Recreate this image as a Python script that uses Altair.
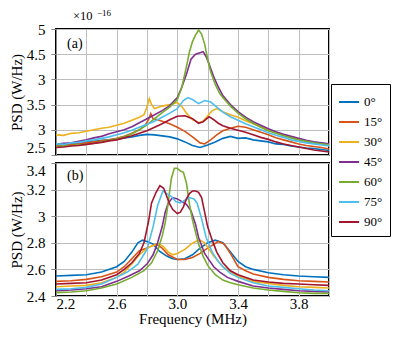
import altair as alt
import pandas as pd

angles = ["0°", "15°", "30°", "45°", "60°", "75°", "90°"]
colors = ["#0072BD", "#D95319", "#EDB120", "#7E2F8E", "#77AC30", "#4DBEEE", "#A2142F"]

# ---------- panel (a), PSD in units of 1e-16 W/Hz ----------
a_f_0 = [2.2, 2.25, 2.3, 2.35, 2.4, 2.45, 2.5, 2.55, 2.6, 2.65, 2.7, 2.75, 2.8, 2.85, 2.9, 2.95, 3.0, 3.05, 3.1, 3.15, 3.2, 3.25, 3.3, 3.35, 3.4, 3.45, 3.5, 3.55, 3.6, 3.65, 3.7, 3.75, 3.8, 3.85, 3.9, 3.95, 4.0]
a_v_0 = [2.71, 2.70, 2.73, 2.72, 2.76, 2.77, 2.79, 2.80, 2.82, 2.84, 2.86, 2.89, 2.91, 2.90, 2.88, 2.86, 2.82, 2.76, 2.69, 2.65, 2.70, 2.76, 2.83, 2.87, 2.83, 2.84, 2.80, 2.78, 2.76, 2.72, 2.71, 2.68, 2.66, 2.64, 2.63, 2.61, 2.59]

a_f_15 = [2.2, 2.25, 2.3, 2.35, 2.4, 2.45, 2.5, 2.55, 2.6, 2.65, 2.7, 2.75, 2.79, 2.81, 2.825, 2.84, 2.87, 2.9, 2.95, 3.0, 3.05, 3.1, 3.15, 3.18, 3.22, 3.26, 3.3, 3.35, 3.4, 3.45, 3.5, 3.55, 3.6, 3.65, 3.7, 3.75, 3.8, 3.85, 3.9, 3.95, 4.0]
a_v_15 = [2.68, 2.69, 2.71, 2.72, 2.74, 2.76, 2.78, 2.80, 2.83, 2.87, 2.93, 3.00, 3.10, 3.20, 3.32, 3.22, 3.20, 3.17, 3.12, 3.05, 2.97, 2.86, 2.74, 2.72, 2.80, 2.90, 2.98, 3.03, 3.07, 3.05, 3.00, 2.95, 2.90, 2.84, 2.80, 2.76, 2.72, 2.69, 2.67, 2.65, 2.62]

a_f_30 = [2.2, 2.25, 2.3, 2.35, 2.4, 2.45, 2.5, 2.55, 2.6, 2.65, 2.7, 2.75, 2.78, 2.8, 2.815, 2.83, 2.85, 2.9, 2.95, 3.0, 3.03, 3.06, 3.1, 3.14, 3.17, 3.2, 3.23, 3.26, 3.3, 3.35, 3.4, 3.45, 3.5, 3.55, 3.6, 3.65, 3.7, 3.75, 3.8, 3.85, 3.9, 3.95, 4.0]
a_v_30 = [2.90, 2.89, 2.93, 2.94, 2.97, 3.00, 3.03, 3.05, 3.09, 3.13, 3.19, 3.25, 3.30, 3.45, 3.62, 3.50, 3.42, 3.47, 3.50, 3.54, 3.46, 3.33, 3.20, 3.14, 3.17, 3.28, 3.38, 3.42, 3.36, 3.30, 3.25, 3.18, 3.12, 3.06, 3.00, 2.95, 2.90, 2.84, 2.80, 2.77, 2.75, 2.73, 2.70]

a_f_45 = [2.2, 2.25, 2.3, 2.35, 2.4, 2.45, 2.5, 2.55, 2.6, 2.65, 2.7, 2.75, 2.8, 2.85, 2.9, 2.95, 3.0, 3.03, 3.06, 3.09, 3.12, 3.15, 3.17, 3.19, 3.21, 3.24, 3.27, 3.3, 3.35, 3.4, 3.45, 3.5, 3.55, 3.6, 3.65, 3.7, 3.75, 3.8, 3.85, 3.9, 3.95, 4.0]
a_v_45 = [2.71, 2.73, 2.74, 2.77, 2.80, 2.84, 2.87, 2.92, 2.96, 3.00, 3.06, 3.14, 3.22, 3.30, 3.38, 3.48, 3.64, 3.85, 4.10, 4.40, 4.50, 4.53, 4.55, 4.45, 4.30, 4.05, 3.85, 3.68, 3.50, 3.36, 3.25, 3.16, 3.09, 3.02, 2.96, 2.91, 2.87, 2.83, 2.79, 2.76, 2.74, 2.72]

a_f_60 = [2.2, 2.3, 2.4, 2.5, 2.6, 2.65, 2.7, 2.75, 2.8, 2.85, 2.9, 2.95, 3.0, 3.03, 3.06, 3.08, 3.1, 3.12, 3.14, 3.16, 3.18, 3.2, 3.22, 3.25, 3.28, 3.3, 3.35, 3.4, 3.45, 3.5, 3.55, 3.6, 3.65, 3.7, 3.75, 3.8, 3.85, 3.9, 3.95, 4.0]
a_v_60 = [2.67, 2.69, 2.71, 2.76, 2.82, 2.86, 2.92, 3.00, 3.10, 3.22, 3.34, 3.45, 3.60, 3.85, 4.25, 4.55, 4.75, 4.88, 4.98, 4.90, 4.70, 4.40, 4.15, 3.90, 3.72, 3.64, 3.47, 3.33, 3.22, 3.13, 3.05, 2.98, 2.93, 2.88, 2.84, 2.80, 2.77, 2.74, 2.72, 2.70]

a_f_75 = [2.2, 2.25, 2.3, 2.35, 2.4, 2.45, 2.5, 2.55, 2.6, 2.65, 2.7, 2.75, 2.8, 2.85, 2.9, 2.95, 3.0, 3.04, 3.07, 3.1, 3.14, 3.18, 3.22, 3.26, 3.3, 3.35, 3.4, 3.45, 3.5, 3.55, 3.6, 3.65, 3.7, 3.75, 3.8, 3.85, 3.9, 3.95, 4.0]
a_v_75 = [2.72, 2.71, 2.74, 2.75, 2.78, 2.80, 2.83, 2.86, 2.90, 2.94, 2.99, 3.05, 3.11, 3.17, 3.25, 3.33, 3.42, 3.58, 3.64, 3.60, 3.52, 3.58, 3.55, 3.45, 3.35, 3.26, 3.19, 3.12, 3.06, 3.00, 2.94, 2.89, 2.85, 2.80, 2.77, 2.74, 2.72, 2.70, 2.68]

a_f_90 = [2.2, 2.25, 2.3, 2.35, 2.4, 2.45, 2.5, 2.55, 2.6, 2.65, 2.7, 2.75, 2.8, 2.85, 2.9, 2.95, 3.0, 3.05, 3.1, 3.14, 3.17, 3.21, 3.24, 3.27, 3.3, 3.35, 3.4, 3.45, 3.5, 3.55, 3.6, 3.65, 3.7, 3.75, 3.8, 3.85, 3.9, 3.95, 4.0]
a_v_90 = [2.65, 2.66, 2.68, 2.69, 2.71, 2.73, 2.75, 2.78, 2.80, 2.84, 2.88, 2.93, 2.98, 3.05, 3.12, 3.20, 3.27, 3.28, 3.22, 3.13, 3.16, 3.26, 3.20, 3.13, 3.08, 3.03, 2.99, 2.95, 2.90, 2.85, 2.81, 2.76, 2.72, 2.69, 2.66, 2.63, 2.60, 2.58, 2.56]

# ---------- panel (b) ----------
b_f_0 = [2.2, 2.3, 2.4, 2.5, 2.6, 2.65, 2.7, 2.74, 2.77, 2.8, 2.84, 2.88, 2.93, 2.97, 3.0, 3.05, 3.1, 3.15, 3.2, 3.25, 3.3, 3.35, 3.4, 3.45, 3.5, 3.6, 3.7, 3.8, 3.9, 4.0]
b_v_0 = [2.55, 2.555, 2.56, 2.58, 2.62, 2.66, 2.73, 2.80, 2.82, 2.81, 2.79, 2.74, 2.70, 2.68, 2.675, 2.68, 2.71, 2.76, 2.80, 2.82, 2.80, 2.73, 2.66, 2.62, 2.60, 2.575, 2.56, 2.55, 2.545, 2.54]

b_f_15 = [2.2, 2.3, 2.4, 2.5, 2.6, 2.65, 2.7, 2.75, 2.8, 2.86, 2.9, 2.94, 3.0, 3.05, 3.1, 3.15, 3.2, 3.27, 3.31, 3.35, 3.4, 3.45, 3.5, 3.6, 3.7, 3.8, 3.9, 4.0]
b_v_15 = [2.51, 2.515, 2.525, 2.545, 2.58, 2.62, 2.68, 2.74, 2.76, 2.79, 2.76, 2.71, 2.675, 2.675, 2.69, 2.72, 2.76, 2.81, 2.79, 2.72, 2.62, 2.59, 2.565, 2.54, 2.525, 2.515, 2.51, 2.505]

b_f_30 = [2.2, 2.3, 2.4, 2.5, 2.6, 2.65, 2.7, 2.75, 2.8, 2.84, 2.88, 2.91, 2.94, 2.97, 3.0, 3.05, 3.09, 3.12, 3.15, 3.18, 3.21, 3.24, 3.27, 3.3, 3.34, 3.4, 3.5, 3.6, 3.7, 3.8, 3.9, 4.0]
b_v_30 = [2.47, 2.475, 2.48, 2.50, 2.54, 2.58, 2.64, 2.71, 2.76, 2.78, 2.79, 2.77, 2.73, 2.71, 2.72, 2.75, 2.79, 2.81, 2.82, 2.80, 2.75, 2.70, 2.66, 2.62, 2.59, 2.55, 2.51, 2.495, 2.48, 2.47, 2.465, 2.46]

b_f_45 = [2.2, 2.3, 2.4, 2.5, 2.6, 2.68, 2.75, 2.8, 2.84, 2.87, 2.9, 2.92, 2.94, 2.97, 3.0, 3.03, 3.06, 3.09, 3.12, 3.14, 3.16, 3.18, 3.21, 3.24, 3.28, 3.33, 3.4, 3.5, 3.6, 3.7, 3.8, 3.9, 4.0]
b_v_45 = [2.44, 2.445, 2.455, 2.47, 2.51, 2.55, 2.59, 2.64, 2.71, 2.80, 2.92, 3.03, 3.10, 3.14, 3.13, 3.11, 3.09, 3.04, 2.94, 2.84, 2.78, 2.72, 2.67, 2.62, 2.58, 2.54, 2.51, 2.475, 2.46, 2.45, 2.44, 2.435, 2.43]

b_f_60 = [2.2, 2.3, 2.4, 2.5, 2.6, 2.7, 2.78, 2.83, 2.87, 2.9, 2.92, 2.94, 2.96, 2.98, 3.0, 3.02, 3.04, 3.06, 3.08, 3.1, 3.12, 3.14, 3.17, 3.2, 3.25, 3.3, 3.35, 3.4, 3.5, 3.6, 3.7, 3.8, 3.9, 4.0]
b_v_60 = [2.425, 2.43, 2.44, 2.46, 2.49, 2.54, 2.59, 2.65, 2.74, 2.85, 2.95, 3.10, 3.28, 3.36, 3.36, 3.34, 3.33, 3.25, 3.09, 2.97, 2.88, 2.79, 2.70, 2.63, 2.56, 2.52, 2.50, 2.485, 2.46, 2.445, 2.435, 2.425, 2.42, 2.42]

b_f_75 = [2.2, 2.3, 2.4, 2.5, 2.6, 2.67, 2.74, 2.8, 2.84, 2.87, 2.905, 2.93, 2.96, 2.99, 3.02, 3.05, 3.08, 3.11, 3.13, 3.16, 3.19, 3.23, 3.27, 3.31, 3.35, 3.4, 3.5, 3.6, 3.7, 3.8, 3.9, 4.0]
b_v_75 = [2.45, 2.455, 2.465, 2.49, 2.54, 2.58, 2.64, 2.75, 2.92, 3.08, 3.19, 3.17, 3.15, 3.11, 3.10, 3.12, 3.14, 3.13, 3.10, 2.98, 2.84, 2.73, 2.66, 2.61, 2.57, 2.54, 2.50, 2.475, 2.465, 2.455, 2.445, 2.44]

b_f_90 = [2.2, 2.3, 2.4, 2.5, 2.6, 2.65, 2.7, 2.75, 2.78, 2.81, 2.83, 2.86, 2.885, 2.91, 2.93, 2.95, 2.97, 3.0, 3.02, 3.04, 3.06, 3.08, 3.1, 3.12, 3.14, 3.16, 3.18, 3.2, 3.23, 3.26, 3.3, 3.35, 3.4, 3.5, 3.6, 3.7, 3.8, 3.9, 4.0]
b_v_90 = [2.49, 2.495, 2.50, 2.52, 2.56, 2.60, 2.65, 2.72, 2.80, 2.96, 3.10, 3.18, 3.23, 3.21, 3.15, 3.09, 3.05, 3.02, 3.03, 3.07, 3.13, 3.17, 3.19, 3.19, 3.18, 3.14, 3.03, 2.92, 2.82, 2.73, 2.65, 2.59, 2.56, 2.52, 2.505, 2.495, 2.49, 2.485, 2.48]

x_grid = [2.2, 2.4, 2.6, 2.8, 3.0, 3.2, 3.4, 3.6, 3.8, 4.0]
ya_ticks = [2.5, 3, 3.5, 4, 4.5, 5]
yb_ticks = [2.4, 2.6, 2.8, 3.0, 3.2, 3.4]

a_series = [(a_f_0, a_v_0), (a_f_15, a_v_15), (a_f_30, a_v_30), (a_f_45, a_v_45),
            (a_f_60, a_v_60), (a_f_75, a_v_75), (a_f_90, a_v_90)]
b_series = [(b_f_0, b_v_0), (b_f_15, b_v_15), (b_f_30, b_v_30), (b_f_45, b_v_45),
            (b_f_60, b_v_60), (b_f_75, b_v_75), (b_f_90, b_v_90)]


def build(series):
    rows = []
    for k, (fs, vs) in enumerate(series):
        for f, v in zip(fs, vs):
            rows.append({"angle": angles[k], "order": k, "f": f, "psd": v})
    return pd.DataFrame(rows)


df_a = build(a_series)
df_b = build(b_series)

FONT = "Times New Roman, Liberation Serif, serif"
W = 273
color = alt.Color("angle:N", scale=alt.Scale(domain=angles, range=colors),
                  sort=angles,
                  legend=alt.Legend(title=None, orient="none", legendX=275, legendY=55,
                                    strokeColor="black", padding=7,
                                    symbolType="stroke", symbolSize=400,
                                    symbolStrokeWidth=2, labelFont=FONT,
                                    labelFontSize=13, rowPadding=2, labelOffset=4))

top_lines = alt.Chart(df_a).mark_line(strokeWidth=1.6, clip=True).encode(
    x=alt.X("f:Q", scale=alt.Scale(domain=[2.2, 4.0], nice=False),
            axis=alt.Axis(values=x_grid, labels=False, ticks=False, domain=False, title=None)),
    y=alt.Y("psd:Q", scale=alt.Scale(domain=[2.5, 5], nice=False),
            axis=alt.Axis(values=ya_ticks, format="~g", title="PSD (W/Hz)",
                          labelExpr="datum.value == 4 ? '3' : datum.label",
                          labelBaseline={"condition": {"test": "datum.value == 2.5", "value": "bottom"}, "value": "middle"})),
    color=color,
    order="order:Q",
)

one = pd.DataFrame({"k": [0]})
lab_a = alt.Chart(one).mark_text(font=FONT, fontSize=14, align="left", baseline="middle").encode(
    x=alt.value(11), y=alt.value(15), text=alt.value("(a)"))
mult = alt.Chart(one).mark_text(font=FONT, fontSize=12.5, align="left", baseline="alphabetic").encode(
    x=alt.value(17), y=alt.value(-9), text=alt.value("×10"))
expo = alt.Chart(one).mark_text(font=FONT, fontSize=9, align="left", baseline="alphabetic").encode(
    x=alt.value(41), y=alt.value(-13), text=alt.value("−16"))

top = alt.layer(top_lines, lab_a, mult, expo).properties(width=W, height=126)

bot_lines = alt.Chart(df_b).mark_line(strokeWidth=1.6, clip=True).encode(
    x=alt.X("f:Q", scale=alt.Scale(domain=[2.2, 4.0], nice=False),
            axis=alt.Axis(values=x_grid, format=".1f", ticks=False, domain=False,
                          title="Frequency (MHz)", labelFlush=True,
                          labelExpr="round(datum.value*10) % 4 == 2 ? datum.label : ''")),
    y=alt.Y("psd:Q", scale=alt.Scale(domain=[2.4, 3.4], nice=False),
            axis=alt.Axis(values=yb_ticks, format="~g", title="PSD (W/Hz)",
                          labelBaseline={"condition": {"test": "datum.value == 3.4", "value": "top"}, "value": "middle"})),
    color=color,
    order="order:Q",
)
lab_b = alt.Chart(one).mark_text(font=FONT, fontSize=14, align="left", baseline="middle").encode(
    x=alt.value(11), y=alt.value(13), text=alt.value("(b)"))
bot = alt.layer(bot_lines, lab_b).properties(width=W, height=133)

chart = alt.vconcat(top, bot, spacing=4).configure_view(
    stroke="black", strokeWidth=2
).configure_axis(
    labelFont=FONT, labelFontSize=15, labelColor="black", labelPadding=6,
    titleFont=FONT, titleFontSize=15, titleFontWeight="normal", titleColor="black",
    gridColor="#bdbdbd", gridWidth=1, titlePadding=2
).configure_axisX(labelPadding=0, titlePadding=0).properties(
    padding={"left": 0, "top": 0, "right": 0, "bottom": 0}
)

chart.save("out.html", embed_options={"renderer": "svg", "actions": False})
